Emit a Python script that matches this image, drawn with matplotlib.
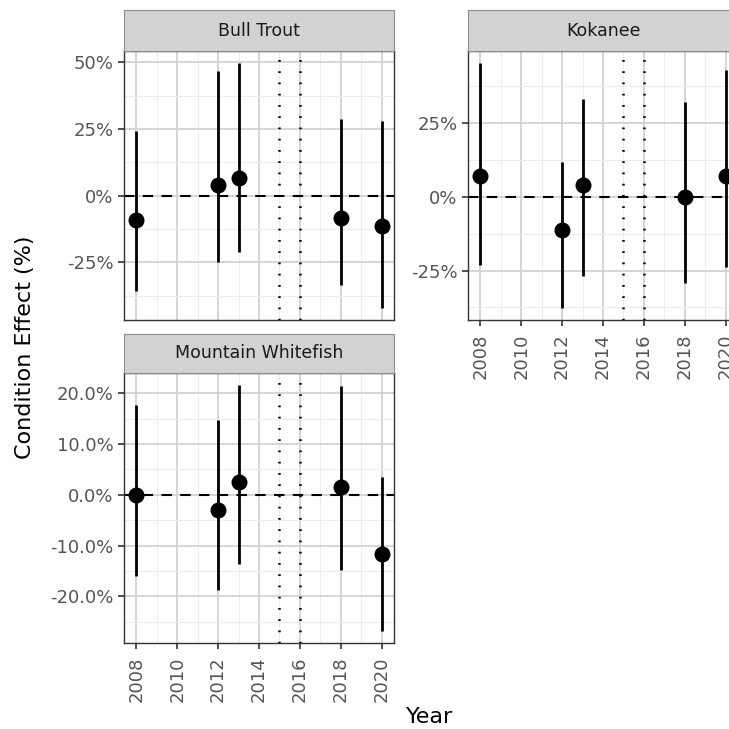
import matplotlib
matplotlib.use('Agg')
import numpy as np
import matplotlib.pyplot as plt
from matplotlib.ticker import FixedLocator, FuncFormatter

# Survey years and condition effect estimates (%) with interval bounds
years = [2008, 2012, 2013, 2018, 2020]

bull_trout_est = [-9.0, 3.8, 6.6, -8.4, -11.2]
bull_trout_low = [-35.7, -24.7, -21.2, -33.5, -42.0]
bull_trout_high = [24.2, 46.7, 49.6, 28.6, 27.9]

kokanee_est = [6.8, -11.3, 3.9, 0.0, 7.0]
kokanee_low = [-23.3, -37.6, -26.8, -29.1, -23.9]
kokanee_high = [45.1, 11.6, 33.0, 31.9, 42.8]

whitefish_est = [0.0, -3.0, 2.6, 1.5, -11.6]
whitefish_low = [-16.0, -18.8, -13.7, -14.9, -26.8]
whitefish_high = [17.8, 14.7, 21.6, 21.4, 3.6]

x_breaks = [2008, 2010, 2012, 2014, 2016, 2018, 2020]
bull_trout_breaks = [-25, 0, 25, 50]
kokanee_breaks = [-25, 0, 25]
whitefish_breaks = [-20, -10, 0, 10, 20]

# Years bounding the treatment period
period_lines = [2015, 2016]

FIG_W, FIG_H = 729, 729


def px_box(left: float, top: float, right: float, bottom: float) -> list:
    """
    Convert a pixel rectangle (from the top-left corner) to figure fractions
    """
    return [left / FIG_W, 1 - bottom / FIG_H, (right - left) / FIG_W, (bottom - top) / FIG_H]


def minor_between(breaks: list) -> list:
    """
    Minor grid positions half way between the major breaks (and one step beyond)
    """
    step = breaks[1] - breaks[0]
    return list(np.arange(breaks[0] - step / 2, breaks[-1] + step, step))


def draw_strip(fig, box: list, title: str) -> None:
    """
    Grey facet strip with the species name
    """
    sax = fig.add_axes(box)
    sax.set_facecolor('#d2d2d2')
    sax.set_xticks([])
    sax.set_yticks([])
    for s in sax.spines.values():
        s.set_color('#8f8f8f')
        s.set_linewidth(0.8)
    sax.text(0.5, 0.5, title, ha='center', va='center', fontsize=12.5,
             color='#1a1a1a', transform=sax.transAxes)


def draw_panel(fig, box: list, strip_box: list, title: str, est: list, low: list,
               high: list, breaks: list, fmt: str, show_x: bool) -> None:
    """
    One facet: point estimates with interval lines, zero line and period markers
    """
    ax = fig.add_axes(box)

    # limits with 5% padding on both sides
    lo, hi = min(low), max(high)
    pad = (hi - lo) * 0.05
    ax.set_ylim(lo - pad, hi + pad)
    x0, x1 = min(x_breaks), max(x_breaks)
    xpad = (x1 - x0) * 0.05
    ax.set_xlim(x0 - xpad, x1 + xpad)

    ax.xaxis.set_major_locator(FixedLocator(x_breaks))
    ax.xaxis.set_minor_locator(FixedLocator(minor_between(x_breaks)))
    ax.yaxis.set_major_locator(FixedLocator(breaks))
    ax.yaxis.set_minor_locator(FixedLocator(minor_between(breaks)))
    ax.yaxis.set_major_formatter(FuncFormatter(lambda v, _: fmt.format(v)))

    ax.grid(which='major', color='#d2d2d2', lw=1.3)
    ax.grid(which='minor', color='#ececec', lw=0.7)
    ax.set_axisbelow(True)

    ax.tick_params(which='minor', length=0)
    ax.tick_params(which='major', length=4.5, width=1.2, color='#333333',
                   labelsize=13, labelcolor='#555555')
    ax.tick_params(axis='y', pad=3)
    ax.tick_params(axis='x', labelrotation=90, pad=5)
    if not show_x:
        ax.tick_params(axis='x', length=0, labelbottom=False)

    ax.axhline(0, color='black', lw=1.5, ls=(0, (5, 4)), zorder=2)
    for x in period_lines:
        ax.axvline(x, color='black', lw=1.8, ls=(0, (0.7, 3.8)), zorder=2)

    ax.vlines(years, low, high, color='black', lw=2.0, zorder=3)
    ax.plot(years, est, 'o', color='black', ms=10.5, zorder=4)

    for s in ax.spines.values():
        s.set_color('#333333')
        s.set_linewidth(1.0)

    draw_strip(fig, strip_box, title)


fig = plt.figure(figsize=(FIG_W / 100, FIG_H / 100), dpi=100)

draw_panel(fig, px_box(124, 51, 394, 320), px_box(124, 10, 394, 51), 'Bull Trout',
           bull_trout_est, bull_trout_low, bull_trout_high, bull_trout_breaks, '{:.0f}%', False)
draw_panel(fig, px_box(468, 51, 738, 320), px_box(468, 10, 738, 51), 'Kokanee',
           kokanee_est, kokanee_low, kokanee_high, kokanee_breaks, '{:.0f}%', True)
draw_panel(fig, px_box(124, 373, 394, 643), px_box(124, 334, 394, 373), 'Mountain Whitefish',
           whitefish_est, whitefish_low, whitefish_high, whitefish_breaks, '{:.1f}%', True)

fig.text(25 / FIG_W, 1 - 347 / FIG_H, 'Condition Effect (%)', rotation=90,
         ha='center', va='center', fontsize=16, color='black')
fig.text(430 / FIG_W, 1 - 723 / FIG_H, 'Year', ha='center', va='baseline',
         fontsize=16, color='black')

fig.savefig('out.png', dpi=100, facecolor='white')
